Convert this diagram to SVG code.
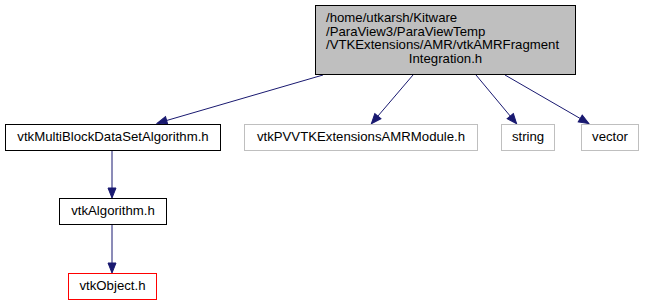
<svg xmlns="http://www.w3.org/2000/svg" width="645" height="305" viewBox="0 0 645 305">
  <style>
    .lbl { font-family: "Liberation Sans", Arial, sans-serif; font-size: 13.2px; fill: #000; }
    .mid { text-anchor: middle; }
    .edge { fill: none; stroke: #191970; stroke-width: 1; }
    .main rect { fill: #bfbfbf; stroke: #000; }
    .std rect { fill: #fff; stroke: #000; }
    .ext rect { fill: #fff; stroke: #bfbfbf; }
    .bad rect { fill: #fff; stroke: #ff0000; }
  </style>
  <defs>
    <marker id="arrow" viewBox="0 0 10 8" refX="9" refY="4" markerWidth="10" markerHeight="8" markerUnits="userSpaceOnUse" orient="auto" overflow="visible">
      <path d="M0,0 L10,4 L0,8 Z" fill="#191970" stroke="#191970" stroke-width="1" stroke-linejoin="miter"/>
    </marker>
  </defs>

  <g id="connectors">
    <path class="edge" d="M323,75 L158,123" marker-end="url(#arrow)"/>
    <path class="edge" d="M413,75 L372,123" marker-end="url(#arrow)"/>
    <path class="edge" d="M476,75 L516,123" marker-end="url(#arrow)"/>
    <path class="edge" d="M505,75 L588,123" marker-end="url(#arrow)"/>
    <path class="edge" d="M112,150 L112,197" marker-end="url(#arrow)"/>
    <path class="edge" d="M112,224 L112,272" marker-end="url(#arrow)"/>
  </g>

  <g id="node-main" class="main">
    <rect x="315.5" y="5.5" width="260" height="69"/>
    <text class="lbl" x="326" y="22">/home/utkarsh/Kitware</text>
    <text class="lbl" x="326" y="35.5">/ParaView3/ParaViewTemp</text>
    <text class="lbl" x="326" y="49">/VTKExtensions/AMR/vtkAMRFragment</text>
    <text class="lbl mid" x="445.5" y="62.5">Integration.h</text>
  </g>

  <g id="node-multiblock" class="std">
    <rect x="5.5" y="124.5" width="215" height="26"/>
    <text class="lbl mid" x="113" y="141">vtkMultiBlockDataSetAlgorithm.h</text>
  </g>

  <g id="node-pvvtk" class="ext">
    <rect x="244.5" y="124.5" width="233" height="26"/>
    <text class="lbl mid" x="361" y="141">vtkPVVTKExtensionsAMRModule.h</text>
  </g>

  <g id="node-string" class="ext">
    <rect x="501.5" y="124.5" width="53" height="26"/>
    <text class="lbl mid" x="528" y="141">string</text>
  </g>

  <g id="node-vector" class="ext">
    <rect x="581.5" y="124.5" width="57" height="26"/>
    <text class="lbl mid" x="610" y="141">vector</text>
  </g>

  <g id="node-algorithm" class="std">
    <rect x="59.5" y="198.5" width="107" height="26"/>
    <text class="lbl mid" x="113" y="215">vtkAlgorithm.h</text>
  </g>

  <g id="node-object" class="bad">
    <rect x="68.5" y="273.5" width="88" height="26"/>
    <text class="lbl mid" x="112.5" y="290">vtkObject.h</text>
  </g>
</svg>
